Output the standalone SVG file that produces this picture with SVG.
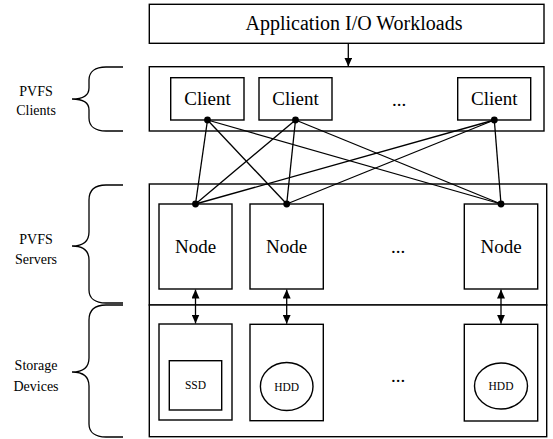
<svg xmlns="http://www.w3.org/2000/svg" width="553" height="439" viewBox="0 0 553 439">
<style>
.box{fill:#fff;stroke:#000;stroke-width:1.4}
.ln{fill:none;stroke:#000;stroke-width:1.3}
.t{font-family:"Liberation Serif","Times New Roman",serif;fill:#000;text-anchor:middle}
.big{font-size:19px}
.app{font-size:20px}
.lab{font-size:14px}
.sm{font-size:11.5px}
.dot{fill:#000}
</style>
<defs>
<marker id="ah" viewBox="0 0 9 8" refX="9" refY="4" markerWidth="9" markerHeight="8" markerUnits="userSpaceOnUse" orient="auto-start-reverse">
<path d="M0,0 L9,4 L0,8 z" fill="#000"/>
</marker>
</defs>
<rect width="553" height="439" fill="#fff"/>

<g id="app">
<rect class="box" x="149.3" y="4.3" width="394.7" height="39"/>
<text class="t app" x="354" y="29.5">Application I/O Workloads</text>
</g>

<g id="clients-layer">
<rect class="box" x="149.3" y="66.7" width="394.7" height="64.3"/>
</g>
<g id="servers-layer">
<rect class="box" x="149.3" y="184" width="397.4" height="121"/>
</g>
<g id="storage-layer">
<rect class="box" x="149.3" y="305" width="397.4" height="131.7"/>
</g>

<g id="client1"><rect class="box" x="170.7" y="77.7" width="73.3" height="42.3"/><text class="t big" x="207.5" y="105">Client</text></g>
<g id="client2"><rect class="box" x="259" y="77.7" width="73" height="42.3"/><text class="t big" x="295.5" y="105">Client</text></g>
<g id="client-dots"><text class="t big" x="399" y="106">...</text></g>
<g id="client3"><rect class="box" x="457.7" y="77.7" width="73" height="42.3"/><text class="t big" x="494.2" y="105">Client</text></g>

<g id="node1"><rect class="box" x="159" y="204" width="73" height="85"/><text class="t big" x="195.5" y="252.5">Node</text></g>
<g id="node2"><rect class="box" x="250" y="204" width="73.3" height="85"/><text class="t big" x="286.7" y="252.5">Node</text></g>
<g id="node-dots"><text class="t big" x="398" y="253">...</text></g>
<g id="node3"><rect class="box" x="464.3" y="204" width="73.4" height="85"/><text class="t big" x="501" y="252.5">Node</text></g>

<g id="storage1"><rect class="box" x="159" y="324" width="73" height="96"/><rect class="box" x="169.3" y="360.7" width="52.4" height="49.3"/><text class="t sm" x="195.5" y="389">SSD</text></g>
<g id="storage2"><rect class="box" x="250" y="324.3" width="73.3" height="96.4"/><ellipse class="box" cx="286.7" cy="386.5" rx="26.3" ry="24"/><text class="t sm" x="286.7" y="390.5">HDD</text></g>
<g id="storage-dots"><text class="t big" x="398" y="382">...</text></g>
<g id="storage3"><rect class="box" x="464.3" y="324.3" width="73.4" height="96.7"/><ellipse class="box" cx="501" cy="386" rx="26.5" ry="23"/><text class="t sm" x="501" y="390">HDD</text></g>

<g id="labels">
<path class="ln" d="M123,67 H106 C95,67 89,72 89,80 V88 C89,95 83,99 72,99 C83,99 89,103 89,110 V118 C89,126 95,131 106,131 H123"/>
<text class="t lab" x="36" y="96">PVFS</text>
<text class="t lab" x="36" y="115">Clients</text>
<path class="ln" d="M123,185 H106 C95,185 89,190 89,200 V232 C89,241 83,246 72,246 C83,246 89,251 89,260 V290 C89,298 95,303 106,303 H123"/>
<text class="t lab" x="36" y="244">PVFS</text>
<text class="t lab" x="36" y="264">Servers</text>
<path class="ln" d="M123,305 H106 C95,305 89,310 89,320 V358 C89,367 83,372 72,372 C83,372 89,377 89,386 V424 C89,432 95,437 106,437 H123"/>
<text class="t lab" x="36" y="370">Storage</text>
<text class="t lab" x="36" y="391">Devices</text>
</g>

<g id="connectors">
<line class="ln" x1="348.3" y1="43.3" x2="348.3" y2="66.5" marker-end="url(#ah)"/>
<line class="ln" x1="207.5" y1="120" x2="195.5" y2="204"/>
<line class="ln" x1="207.5" y1="120" x2="286.7" y2="204"/>
<line class="ln" x1="207.5" y1="120" x2="501" y2="204"/>
<line class="ln" x1="295.5" y1="120" x2="195.5" y2="204"/>
<line class="ln" x1="295.5" y1="120" x2="286.7" y2="204"/>
<line class="ln" x1="295.5" y1="120" x2="501" y2="204"/>
<line class="ln" x1="494.3" y1="120" x2="195.5" y2="204"/>
<line class="ln" x1="494.3" y1="120" x2="286.7" y2="204"/>
<line class="ln" x1="494.3" y1="120" x2="501" y2="204"/>
<circle class="dot" cx="207.5" cy="120" r="3.4"/>
<circle class="dot" cx="295.5" cy="120" r="3.4"/>
<circle class="dot" cx="494.3" cy="120" r="3.4"/>
<circle class="dot" cx="195.5" cy="204" r="3.4"/>
<circle class="dot" cx="286.7" cy="204" r="3.4"/>
<circle class="dot" cx="501" cy="204" r="3.4"/>
<line class="ln" x1="195.5" y1="289.5" x2="195.5" y2="323.5" marker-start="url(#ah)" marker-end="url(#ah)"/>
<line class="ln" x1="286.7" y1="289.5" x2="286.7" y2="323.8" marker-start="url(#ah)" marker-end="url(#ah)"/>
<line class="ln" x1="501" y1="289.5" x2="501" y2="323.8" marker-start="url(#ah)" marker-end="url(#ah)"/>
</g>
</svg>
